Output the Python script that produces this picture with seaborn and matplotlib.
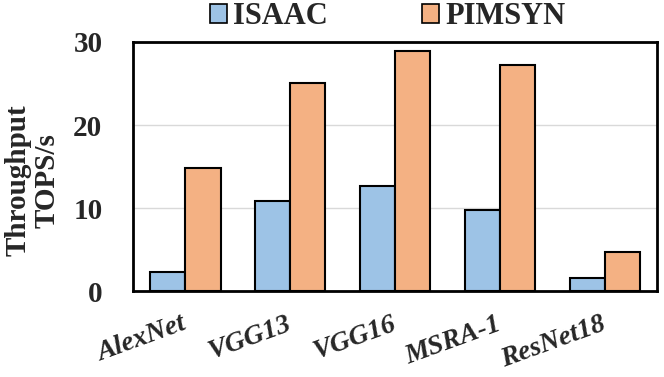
import pandas as pd
from matplotlib import pyplot as plt
from matplotlib.patches import Patch
from matplotlib.transforms import ScaledTranslation
import seaborn as sbn

sbn.set_style("white")
plt.rcParams['font.family'] = ['Liberation Serif', 'DejaVu Serif']
plt.rcParams['font.weight'] = 'bold'

# data
networks = ["AlexNet", "VGG13", "VGG16", "MSRA-1", "ResNet18"]
isaac = [2.3, 10.8, 12.6, 9.8, 1.6]
pimsyn = [14.8, 25.0, 28.9, 27.2, 4.7]
series = ["ISAAC", "PIMSYN"]
colors = ["#9DC3E6", "#F4B183"]

df = pd.DataFrame({"net": networks * 2,
                   "arch": ["ISAAC"] * len(networks) + ["PIMSYN"] * len(networks),
                   "tops": isaac + pimsyn})

fig, ax = plt.subplots(figsize=(6.64, 3.77), dpi=100)
fig.subplots_adjust(left=0.2003, right=0.9895, top=0.8886, bottom=0.2281)

sbn.barplot(data=df, x="net", y="tops", hue="arch", palette=colors,
            width=0.67, edgecolor="black", linewidth=1.5,
            saturation=1, legend=False, ax=ax, zorder=3)

ax.set_ylim(0, 30)
ax.set_yticks([0, 10, 20, 30])
ax.set_xlim(-0.5, len(networks) - 0.5)
ax.yaxis.grid(True, color="#D9D9D9", linewidth=1, zorder=0)
ax.set_axisbelow(True)
for sp in ax.spines.values():
    sp.set_color("black")
    sp.set_linewidth(2.0)
ax.tick_params(axis="both", length=0)
ax.tick_params(axis="y", labelsize=21, pad=22)
plt.setp(ax.get_yticklabels(), fontweight="bold")
ax.set_xticks(range(len(networks)))
ax.set_xticklabels(networks, rotation=20, fontsize=20, fontweight="bold",
                   fontstyle="italic", ha="right", rotation_mode="anchor")
ax.tick_params(axis="x", pad=15)
shift = ScaledTranslation(-3 / 72, 0, fig.dpi_scale_trans)
for lbl in ax.get_xticklabels():
    lbl.set_transform(lbl.get_transform() + shift)

ax.set_xlabel("")
ax.set_ylabel("Throughput\nTOPS/s", fontsize=21, fontweight="bold",
              linespacing=1.1)
ax.yaxis.set_label_coords(-0.138, 0.445)

handles = [Patch(facecolor=c, edgecolor="black", linewidth=1.2, label=s)
           for s, c in zip(series, colors)]
fig.legend(handles=handles, ncol=2, frameon=False, loc="center",
           bbox_to_anchor=(387.5 / 664, 1 - 17 / 377), prop={"size": 22, "weight": "bold"},
           handlelength=0.55, handleheight=0.55, handletextpad=0.2,
           columnspacing=3.1, borderaxespad=0, borderpad=0)

fig.savefig("out.png", dpi=100)
